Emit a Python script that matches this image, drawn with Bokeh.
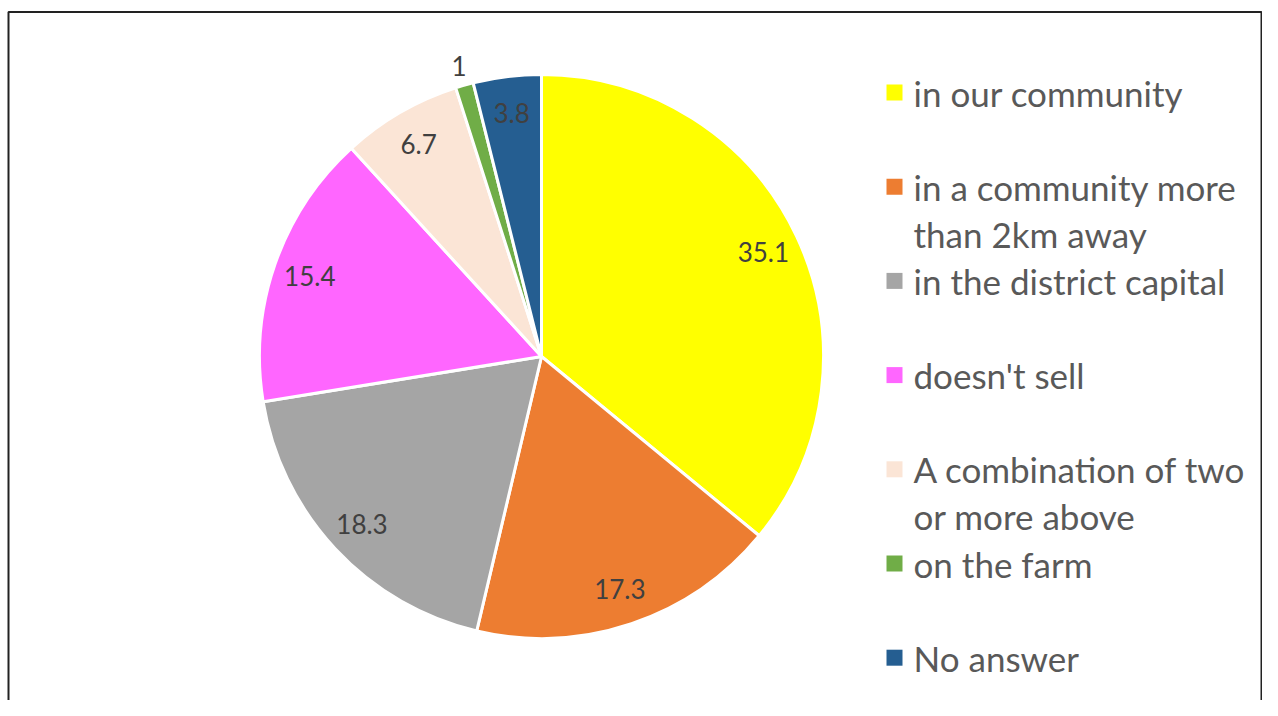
import math
from bokeh.plotting import figure
from bokeh.models import Range1d
from bokeh.core.properties import value
from bokeh.embed import file_html
from bokeh.resources import INLINE

# ---- data ----
categories = [
    "in our community",
    "in a community more\nthan 2km away",
    "in the district capital",
    "doesn't sell",
    "A combination of two\nor more above",
    "on the farm",
    "No answer",
]
values = [35.1, 17.3, 18.3, 15.4, 6.7, 1.0, 3.8]
labels = ["35.1", "17.3", "18.3", "15.4", "6.7", "1", "3.8"]
colors = ["#FFFF00", "#ED7D31", "#A5A5A5", "#FF66FF", "#FBE5D6", "#70AD47", "#255E91"]

# ---- layout (pixels from the picture's top-left) ----
W, H = 1262, 700
def sy(y):  # picture y -> data y
    return H - y

CX, CY, R = 541, sy(356), 282

p = figure(width=W, height=H, output_backend="svg", toolbar_location=None,
           x_range=Range1d(0, W), y_range=Range1d(0, H),
           x_axis_location=None, y_axis_location=None, min_border=0)
p.grid.visible = False
p.outline_line_color = None
p.background_fill_color = "white"
p.border_fill_color = "white"

total = sum(values)
starts, ends, mids = [], [], []
cum = 0.0
for v in values:
    a0 = math.pi / 2 - 2 * math.pi * cum / total
    cum += v
    a1 = math.pi / 2 - 2 * math.pi * cum / total
    starts.append(a0)
    ends.append(a1)
    mids.append((a0 + a1) / 2)

p.wedge(x=CX, y=CY, radius=R, start_angle=starts, end_angle=ends,
        direction="clock", fill_color=colors, line_color="white", line_width=3)

# data labels
lx, ly = [], []
for v, m in zip(values, mids):
    rr = R * (1.07 if v < 2 else 0.87)
    lx.append(CX + rr * math.cos(m))
    ly.append(CY + rr * math.sin(m))
p.text(x=lx, y=ly, text=labels, text_font=value("Lato"), text_font_size="26px",
       text_color="#404040", text_align="center", text_baseline="middle")

# legend
LEG_Y0, LEG_STEP, LINE_STEP = 92, 94.2, 47
sq_x, sq_y, tx, ty, tt = [], [], [], [], []
for i, (cat, col) in enumerate(zip(categories, colors)):
    yc = LEG_Y0 + i * LEG_STEP
    sq_x.append(894)
    sq_y.append(sy(yc))
    for j, line in enumerate(cat.split("\n")):
        tx.append(913)
        ty.append(sy(yc + j * LINE_STEP))
        tt.append(line)
p.rect(x=sq_x, y=sq_y, width=16, height=16, fill_color=colors, line_color=None)
p.text(x=tx, y=ty, text=tt, text_font=value("Lato"), text_font_size="35px",
       text_color="#595959", text_align="left", text_baseline="middle")

# frame
p.line(x=[8, 8, 1261, 1261], y=[-10, sy(11.5), sy(11.5), -10], line_color="#222222", line_width=2)

open("out.html", "w").write(file_html(p, INLINE))
